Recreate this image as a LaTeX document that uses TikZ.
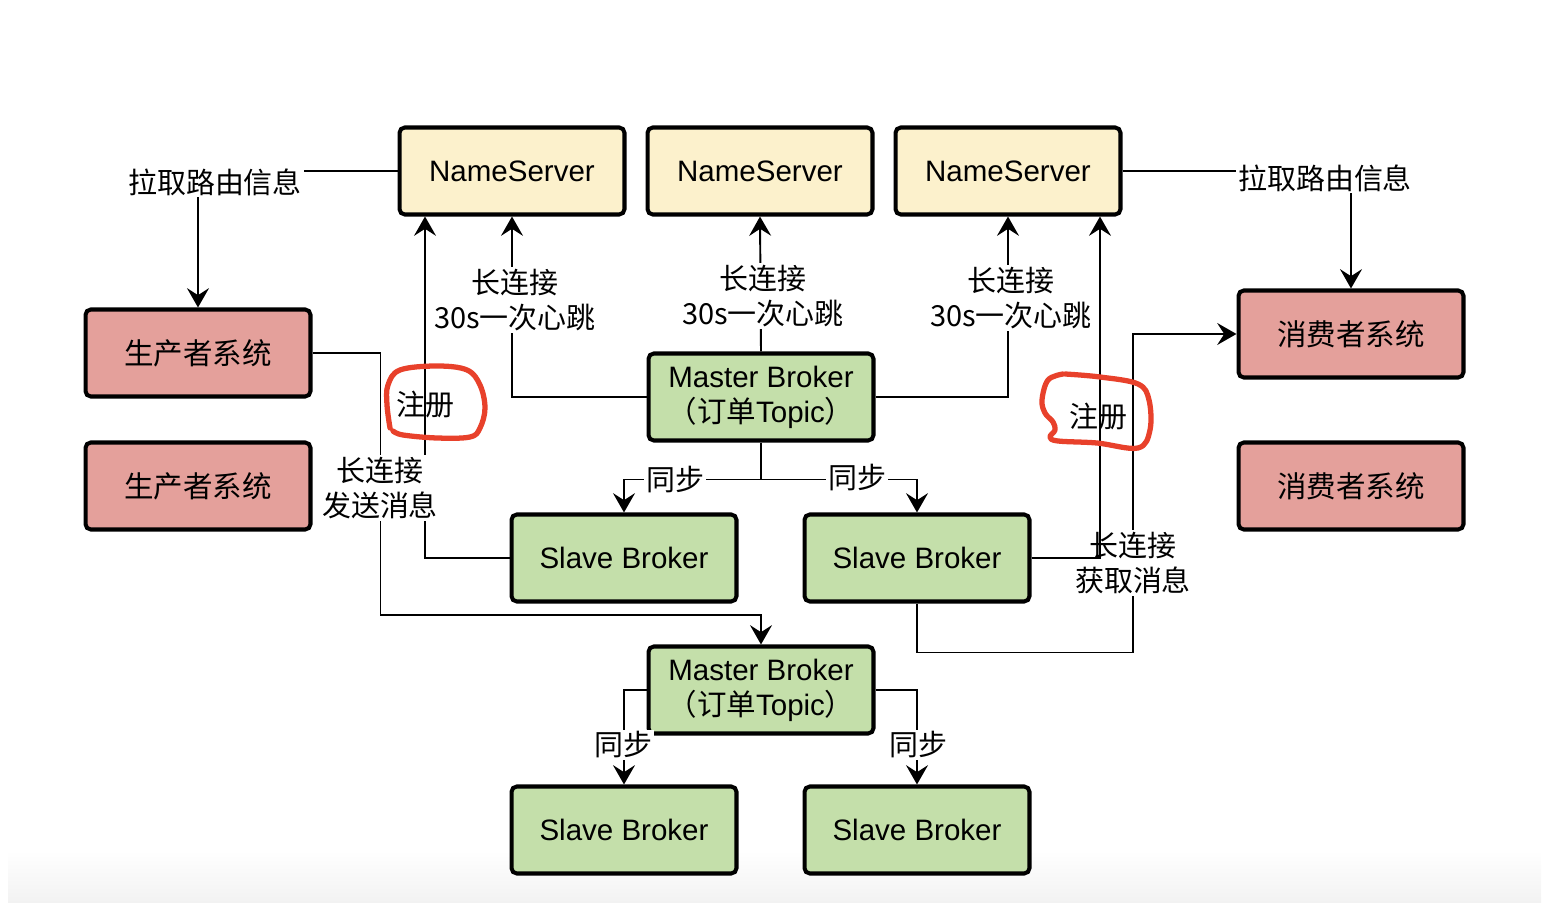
\documentclass[tikz,border=0pt]{standalone}
\usepackage{fontspec}
\setmainfont{Liberation Sans}
\newfontfamily\cjk{Noto Sans CJK SC}
\usetikzlibrary{arrows.meta}

\definecolor{nsfill}{HTML}{FCF1CC}
\definecolor{clifill}{HTML}{E4A09B}
\definecolor{brkfill}{HTML}{C4DFAA}
\definecolor{ringred}{HTML}{E8412B}

\begin{document}
\begin{tikzpicture}[x=0.02cm, y=-0.02cm,
    every node/.style={font=\fontsize{16.8}{20}\selectfont},
    box/.style={draw, line width=2.3pt, rounded corners=3pt, minimum width=4.5cm, minimum height=1.74cm, align=center},
    ns/.style={box, fill=nsfill},
    client/.style={box, fill=clifill},
    broker/.style={box, fill=brkfill},
    link/.style={line width=1.1pt},
    arr/.style={link, -{Stealth[length=11pt, width=12.5pt, inset=4pt]}},
    lbl/.style={fill=white, inner sep=1pt, align=center, font=\cjk\fontsize{16.5}{20}\selectfont},
    ring/.style={draw=ringred, line width=3pt, line cap=round, line join=round}]
    \useasboundingbox (0,0) rectangle (1549,911);
    \shade[top color=white, bottom color=black!5] (8,850) rectangle (1541,902);

    \node[ns] (ns1) at (512,171) {NameServer};
    \node[ns] (ns2) at (760,171) {NameServer};
    \node[ns] (ns3) at (1008,171) {NameServer};
    \node[client] (prod1) at (198,353) {\cjk 生产者系统};
    \node[client] (prod2) at (198,486) {\cjk 生产者系统};
    \node[client] (cons1) at (1351,334) {\cjk 消费者系统};
    \node[client] (cons2) at (1351,486) {\cjk 消费者系统};
    \node[broker] (master1) at (761,397) {Master Broker\\{\cjk （订单}Topic{\cjk ）}};
    \node[broker] (slave1) at (624,558) {Slave Broker};
    \node[broker] (slave2) at (917,558) {Slave Broker};
    \node[broker] (master2) at (761,690) {Master Broker\\{\cjk （订单}Topic{\cjk ）}};
    \node[broker] (slave3) at (624,830) {Slave Broker};
    \node[broker] (slave4) at (917,830) {Slave Broker};

    % routes
    \draw[arr] (ns1.west) -| (prod1.north);
    \draw[arr] (ns3.east) -| (cons1.north);
    % heartbeats
    \draw[arr] (master1.west) -| (ns1.south);
    \draw[arr] (master1.north) -- (ns2.south);
    \draw[arr] (master1.east) -| (ns3.south);
    \draw[arr] (slave1.west) -| ([xshift=-1.74cm]ns1.south);
    % messages
    \draw[arr] (prod1.east) -- ++(68,0) -- ++(0,262) -| (master2.north);
    \draw[arr] (slave2.south) -- ++(0,49) -| ([xshift=-2.08cm]cons1.west) -- (cons1.west);
    % sync
    \draw[arr] (master1.south) -- ++(0,37) -| (slave1.north);
    \draw[arr] (master1.south) -- ++(0,37) -| (slave2.north);
    \draw[arr] (master2.west) -| (slave3.north);
    \draw[arr] (master2.east) -| (slave4.north);

    \node[lbl] (pullL) at (215,182) {拉取路由信息};
    \node[lbl] (pullR) at (1325,178) {拉取路由信息};
    \node[lbl] (beat1) at (515,300) {长连接\\30s一次心跳};
    \node[lbl] (beat2) at (763,296) {长连接\\30s一次心跳};
    \node[lbl] (beat3) at (1011,298) {长连接\\30s一次心跳};
    \node[lbl] (sendL) at (380,488) {长连接\\发送消息};
    \node[lbl] (fetchL) at (1133,563) {长连接\\获取消息};
    \node[lbl] (sync1) at (675,480) {同步};
    \node[lbl] (sync2) at (857,478) {同步};
    \node[lbl] (sync3) at (623,745) {同步};
    \node[lbl] (sync4) at (918,745) {同步};
    \node[lbl, fill=none] (regL) at (425,405) {注册};
    \node[lbl, fill=none] (regR) at (1098,417) {注册};

    \draw[arr] (slave2.east) -| ([xshift=1.84cm]ns3.south);

    % hand drawn rings
    \draw[ring] plot[smooth, tension=0.6] coordinates {(390,428) (387,405) (388,385) (400,370) (437,366) (467,370) (480,385) (485,408) (480,428) (470,437) (437,438) (403,435) (393,431)};
    \draw[ring] plot[smooth, tension=0.6] coordinates {(1063,374) (1048,380) (1042,400) (1045,413) (1053,422) (1055,430) (1050,437) (1058,441) (1097,443) (1138,448) (1150,430) (1149,400) (1138,384) (1100,377) (1065,374)};
\end{tikzpicture}
\end{document}
